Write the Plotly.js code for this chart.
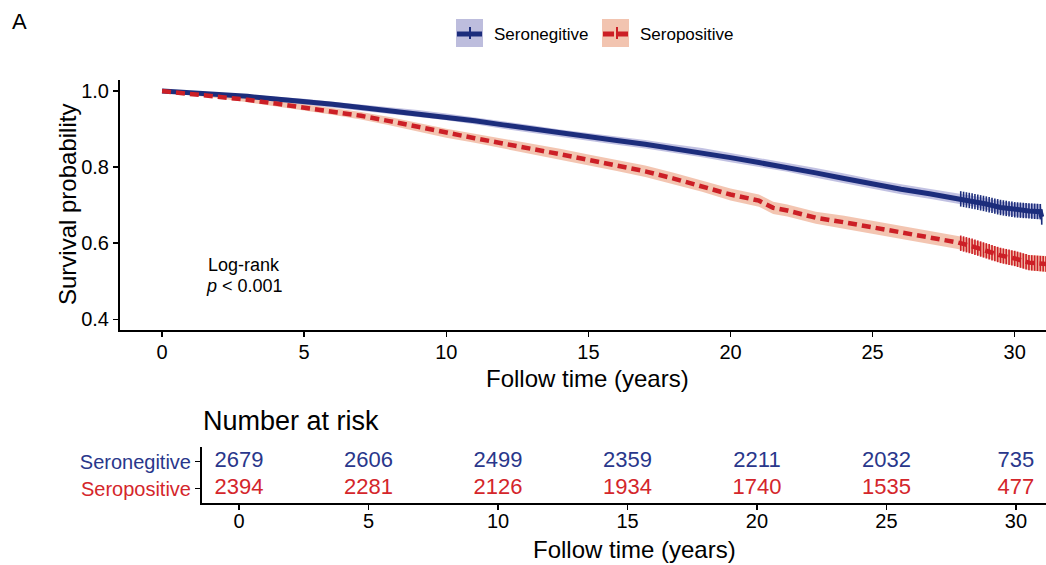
<!DOCTYPE html>
<html>
<head>
<meta charset="utf-8">
<script src="https://cdn.plot.ly/plotly-3.0.1.min.js"></script>
<style>html,body{margin:0;padding:0;background:#fff}#chart{width:1046px;height:565px}</style>
</head>
<body>
<div id="chart"></div>
<script>
// ---------------- DATA ----------------
var groupNames = ["Seronegitive", "Seropositive"];

var tBlue = [0,1,2,3,4,5,6,7,8,9,10,11,12,13,14,15,16,17,18,19,20,21,22,23,24,25,26,27,28,28.5,29,29.5,30,30.5,30.9,30.95];
var sBlue = [1.000,0.996,0.991,0.986,0.979,0.973,0.965,0.957,0.949,0.941,
             0.932,0.922,0.911,0.900,0.889,0.879,0.870,0.860,0.849,0.838,
             0.825,0.812,0.800,0.785,0.770,0.755,0.742,0.730,0.718,
             0.711,0.703,0.694,0.688,0.685,0.683,0.669];
var ciBlue = [0,0.003,0.004,0.005,0.006,0.007,0.007,0.008,0.008,0.009,
              0.009,0.009,0.010,0.010,0.010,0.011,0.011,0.011,0.011,0.012,
              0.012,0.012,0.012,0.013,0.013,0.013,0.013,0.013,0.014,0.014,
              0.015,0.016,0.017,0.018,0.020,0.022];

var tRed = [0,1,2,3,4,5,6,7,8,9,10,11,12,13,14,15,16,17,18,19,20,21,21.5,22,23,24,25,26,27,28,28.5,29,29.5,30,30.5,31,31.2];
var sRed = [1.000,0.993,0.986,0.977,0.967,0.957,0.947,0.935,0.921,0.905,
            0.889,0.876,0.862,0.849,0.834,0.819,0.804,0.789,0.770,0.750,
            0.728,0.712,0.693,0.686,0.667,0.655,0.642,0.629,0.615,0.602,
            0.592,0.580,0.568,0.560,0.549,0.546,0.545];
var ciRed = [0,0.004,0.005,0.006,0.007,0.008,0.009,0.010,0.011,0.011,
             0.012,0.012,0.013,0.013,0.014,0.014,0.014,0.015,0.015,0.015,
             0.016,0.016,0.016,0.016,0.016,0.017,0.017,0.017,0.017,0.017,
             0.018,0.018,0.019,0.019,0.020,0.021,0.021];

var censorBlue = [28.1,28.2,28.3,28.4,28.5,28.6,28.7,28.8,28.9,29.0,29.1,29.2,29.3,29.4,29.5,29.6,29.7,29.8,29.9,30.0,30.1,30.2,30.3,30.4,30.5,30.6,30.7,30.8,30.9,30.95];
var censorRed  = [28.1,28.2,28.3,28.4,28.5,28.6,28.7,28.8,28.9,29.0,29.1,29.2,29.3,29.4,29.5,29.6,29.7,29.8,29.9,30.0,30.1,30.2,30.3,30.4,30.5,30.6,30.7,30.8,30.9,31.0,31.1];

var riskTimes = [0,5,10,15,20,25,30];
var riskBlue = [2679,2606,2499,2359,2211,2032,735];
var riskRed  = [2394,2281,2126,1934,1740,1535,477];

var xTicks = [0,5,10,15,20,25,30];
var yTicks = [0.4,0.6,0.8,1.0];
var yTickLabels = ["0.4","0.6","0.8","1.0"];

// ---------------- STYLE ----------------
var FONT = "Liberation Sans, Arial, Helvetica, sans-serif";
var BLUE = "#1c2d7c", RED = "#cc1f26";
var BLUE_TXT = "#29378b", RED_TXT = "#d4262b";
var BLUE_FILL = "rgba(118,118,190,0.45)", RED_FILL = "rgba(232,140,100,0.50)";
var W = 1046, H = 565;
function PX(p){ return p / W; }
function PY(p){ return 1 - p / H; }

function interp(ts, ss, t){
  for (var i = 1; i < ts.length; i++){
    if (t <= ts[i]) { var f = (t - ts[i-1])/(ts[i]-ts[i-1]); return ss[i-1] + f*(ss[i]-ss[i-1]); }
  }
  return ss[ss.length-1];
}
function lower(s, c){ return s.map(function(v,i){ return v - c[i]; }); }
function upper(s, c){ return s.map(function(v,i){ return v + c[i]; }); }

var traces = [
  // ribbons
  {x:tBlue, y:lower(sBlue,ciBlue), type:"scatter", mode:"lines", line:{width:0}, hoverinfo:"skip", showlegend:false},
  {x:tBlue, y:upper(sBlue,ciBlue), type:"scatter", mode:"lines", line:{width:0}, fill:"tonexty", fillcolor:BLUE_FILL, hoverinfo:"skip", showlegend:false},
  {x:tRed, y:lower(sRed,ciRed), type:"scatter", mode:"lines", line:{width:0}, hoverinfo:"skip", showlegend:false},
  {x:tRed, y:upper(sRed,ciRed), type:"scatter", mode:"lines", line:{width:0}, fill:"tonexty", fillcolor:RED_FILL, hoverinfo:"skip", showlegend:false},
  // curves
  {x:tBlue, y:sBlue, type:"scatter", mode:"lines", name:groupNames[0], line:{color:BLUE, width:5}, showlegend:false},
  {x:tRed, y:sRed, type:"scatter", mode:"lines", name:groupNames[1], line:{color:RED, width:4.5, dash:"9px,5px"}, showlegend:false},
  // censor marks
  {x:censorBlue, y:censorBlue.map(function(t){return interp(tBlue,sBlue,t);}), type:"scatter", mode:"markers",
   marker:{symbol:"line-ns-open", size:11, color:BLUE, line:{color:BLUE, width:1.6}}, hoverinfo:"skip", showlegend:false},
  {x:censorRed, y:censorRed.map(function(t){return interp(tRed,sRed,t);}), type:"scatter", mode:"markers",
   marker:{symbol:"line-ns-open", size:11, color:RED, line:{color:RED, width:1.6}}, hoverinfo:"skip", showlegend:false},
  // risk table
  {x:riskTimes, y:riskTimes.map(function(){return 1;}), text:riskBlue.map(String), type:"scatter", mode:"text",
   textfont:{family:FONT, size:22, color:BLUE_TXT}, xaxis:"x2", yaxis:"y2", hoverinfo:"skip", showlegend:false, cliponaxis:false},
  {x:riskTimes, y:riskTimes.map(function(){return 0;}), text:riskRed.map(String), type:"scatter", mode:"text",
   textfont:{family:FONT, size:22, color:RED_TXT}, xaxis:"x2", yaxis:"y2", hoverinfo:"skip", showlegend:false, cliponaxis:false}
];

var axisCommon = {showgrid:false, zeroline:false, showline:true, linecolor:"#000", linewidth:2,
  ticks:"outside", ticklen:5, tickwidth:1.5, tickcolor:"#000", tickfont:{family:FONT, size:20, color:"#000"}, fixedrange:true};

var layout = {
  width:W, height:H, margin:{l:0,r:0,t:0,b:0},
  paper_bgcolor:"#fff", plot_bgcolor:"#fff", showlegend:false,
  font:{family:FONT, color:"#000"},
  xaxis: Object.assign({}, axisCommon, {domain:[PX(120),1], range:[-1.48,31.1], tickvals:xTicks, anchor:"y", ticklabelstandoff:-2}),
  yaxis: Object.assign({}, axisCommon, {domain:[PY(330),PY(80)], range:[0.372,1.029], tickvals:yTicks, ticktext:yTickLabels, anchor:"x"}),
  xaxis2: Object.assign({}, axisCommon, {domain:[PX(202),1], range:[-1.43,31.16], tickvals:xTicks, anchor:"y2", ticklabelstandoff:-6}),
  yaxis2: Object.assign({}, axisCommon, {domain:[PY(503),PY(447)], range:[-0.54,1.55], tickvals:[1,0],
    ticktext:['<span style="color:'+BLUE_TXT+'">'+groupNames[0]+'</span>','<span style="color:'+RED_TXT+'">'+groupNames[1]+'</span>'],
    anchor:"x2"}),
  shapes: [
    {type:"rect", xref:"paper", yref:"paper", x0:PX(456), x1:PX(483), y0:PY(47), y1:PY(19), fillcolor:"#bdbddd", line:{width:0}},
    {type:"line", xref:"paper", yref:"paper", x0:PX(457), x1:PX(482), y0:PY(34), y1:PY(34), line:{color:BLUE, width:5}},
    {type:"line", xref:"paper", yref:"paper", x0:PX(470), x1:PX(470), y0:PY(27), y1:PY(39), line:{color:BLUE, width:2}},
    {type:"rect", xref:"paper", yref:"paper", x0:PX(602), x1:PX(629), y0:PY(47), y1:PY(19), fillcolor:"#f2c4b0", line:{width:0}},
    {type:"line", xref:"paper", yref:"paper", x0:PX(603), x1:PX(628), y0:PY(34), y1:PY(34), line:{color:RED, width:5, dash:"11px,4px"}},
    {type:"line", xref:"paper", yref:"paper", x0:PX(617), x1:PX(617), y0:PY(27), y1:PY(39), line:{color:RED, width:2}}
  ],
  annotations: [
    {text:"A", xref:"paper", yref:"paper", x:PX(19), y:PY(21), xanchor:"center", yanchor:"middle", showarrow:false, font:{family:FONT, size:22, color:"#000"}},
    {text:groupNames[0], xref:"paper", yref:"paper", x:PX(492), y:PY(34), xanchor:"left", yanchor:"middle", showarrow:false, font:{family:FONT, size:17, color:"#000"}},
    {text:groupNames[1], xref:"paper", yref:"paper", x:PX(638), y:PY(34), xanchor:"left", yanchor:"middle", showarrow:false, font:{family:FONT, size:17, color:"#000"}},
    {text:"Survival probability", xref:"paper", yref:"paper", x:PX(67), y:PY(205), xanchor:"center", yanchor:"middle", textangle:-90, showarrow:false, font:{family:FONT, size:24, color:"#000"}},
    {text:"Follow time (years)", xref:"paper", yref:"paper", x:PX(587), y:PY(378), xanchor:"center", yanchor:"middle", showarrow:false, font:{family:FONT, size:24, color:"#000"}},
    {text:"Log-rank", xref:"paper", yref:"paper", x:PX(206), y:PY(265), xanchor:"left", yanchor:"middle", showarrow:false, font:{family:FONT, size:18, color:"#000"}},
    {text:"<i>p</i> &lt; 0.001", xref:"paper", yref:"paper", x:PX(204), y:PY(286), xanchor:"left", yanchor:"middle", showarrow:false, font:{family:FONT, size:18, color:"#000"}},
    {text:"Number at risk", xref:"paper", yref:"paper", x:PX(201), y:PY(421), xanchor:"left", yanchor:"middle", showarrow:false, font:{family:FONT, size:27, color:"#000"}},
    {text:"Follow time (years)", xref:"paper", yref:"paper", x:PX(634), y:PY(549), xanchor:"center", yanchor:"middle", showarrow:false, font:{family:FONT, size:24, color:"#000"}}
  ]
};

Plotly.newPlot("chart", traces, layout, {staticPlot:true, displayModeBar:false});
</script>
</body>
</html>
